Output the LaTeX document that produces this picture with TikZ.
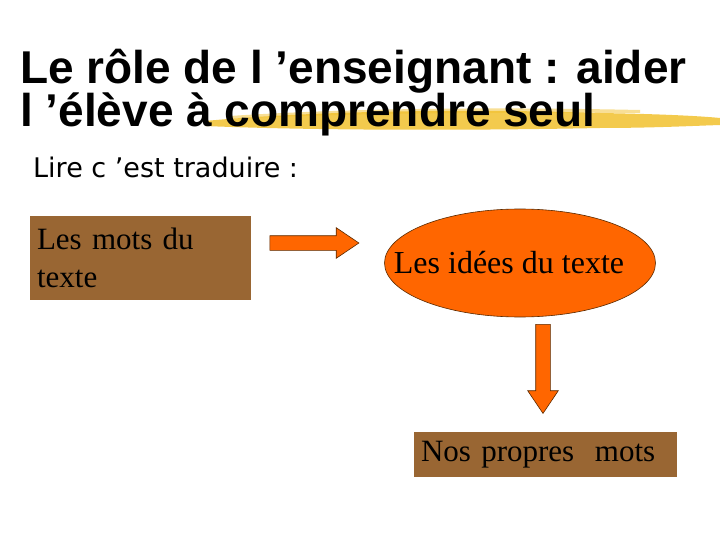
\documentclass[tikz,border=0pt]{standalone}
\usepackage{fontspec}
\setmainfont{Liberation Serif}
\newfontfamily\titlefont{Liberation Sans}
\newfontfamily\lirefont{DejaVu Sans}
\usepackage{tikz}
\usetikzlibrary{shapes.geometric,shapes.arrows}

\definecolor{brun}{HTML}{996633}
\definecolor{orange}{HTML}{FF6600}
\definecolor{contour}{HTML}{5A2A00}
\definecolor{pinceau}{HTML}{F2C12E}

\begin{document}
\begin{tikzpicture}[x=1pt, y=-1pt,
			titrestyle/.style={anchor=base west, inner sep=0pt, font=\titlefont\bfseries\fontsize{46}{43}\selectfont},
			boite/.style={fill=brun, inner sep=7pt, align=left, font=\fontsize{31}{38}\selectfont},
			fleche/.style={single arrow, draw=contour, fill=orange, line width=0.6pt, inner sep=7pt,
				minimum height=89pt, single arrow head extend=8pt, single arrow tip angle=68}
		]

		\useasboundingbox[fill=white] (0,0) rectangle (720,540);

		% coup de pinceau jaune sous le titre
		\fill[pinceau, opacity=0.85] (205,121) .. controls (300,112) and (450,108) .. (600,113)
			.. controls (660,114) and (700,116) .. (720,118) -- (720,125)
			.. controls (690,126) and (650,128) .. (600,128) .. controls (450,131) and (300,130) .. (205,126) -- cycle;
		\fill[pinceau, opacity=0.5] (230,116) .. controls (350,108) and (500,107) .. (640,110) -- (640,113)
			.. controls (500,112) and (350,113) .. (230,119) -- cycle;

		\node[titrestyle] (titre1) at (20,84) {Le rôle de l ’enseignant : aider};
		\node[titrestyle] (titre2) at (20,127) {l ’élève à comprendre seul};

		\node[anchor=base west, inner sep=0pt, font=\lirefont\fontsize{27}{32}\selectfont] (lire) at (33,178) {Lire c ’est traduire :};

		\node[boite, minimum width=221pt, minimum height=84pt, text width=207pt] (mots) at (140.5,258) {Les mots du\\texte};

		\node[fleche] (rarrow) at (309,243) {};

		\node[ellipse, draw=contour, fill=orange, line width=0.6pt, minimum width=271pt, minimum height=108pt, inner sep=0pt] (idees) at (520,263) {};
		\node[font=\fontsize{32}{36}\selectfont, inner sep=0pt] (ideestexte) at (509,263) {Les idées du texte};

		\node[fleche, shape border rotate=270] (darrow) at (543,363.5) {};

		\node[boite, minimum width=263pt, minimum height=45pt, text width=249pt, inner sep=7pt] (nos) at (545.5,454.5) {Nos propres~~mots};

	\end{tikzpicture}
\end{document}
